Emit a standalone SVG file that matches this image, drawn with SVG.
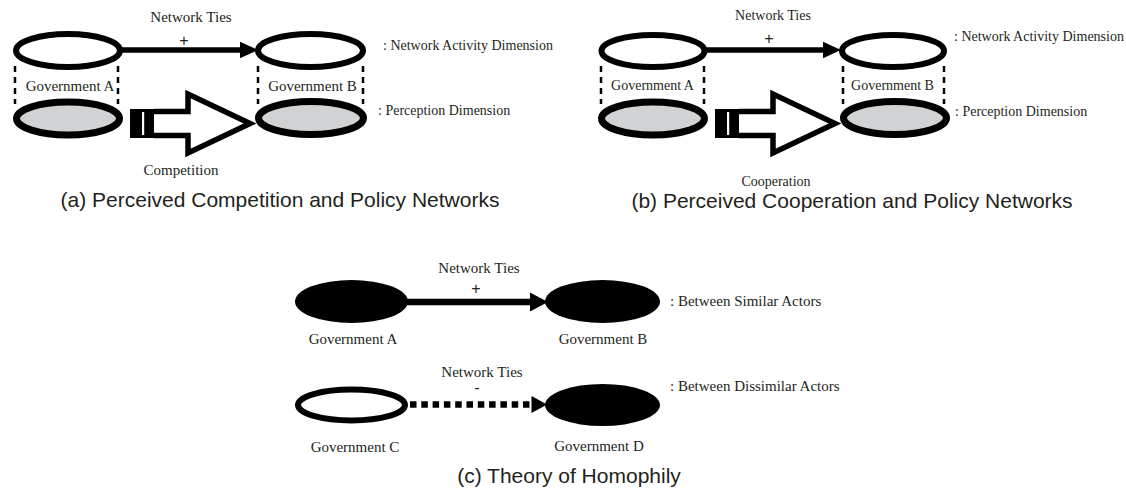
<svg xmlns="http://www.w3.org/2000/svg" width="1126" height="490" viewBox="0 0 1126 490">
<defs>
<style>
.lbl{font-family:"Liberation Serif","Times New Roman",serif;font-size:15px;fill:#231f20}
.dim{font-family:"Liberation Serif","Times New Roman",serif;font-size:14px;fill:#231f20}
.cap{font-family:"Liberation Sans",Arial,sans-serif;font-size:21px;fill:#231f20;text-anchor:middle}
.mid{text-anchor:middle}
.plus{font-family:"Liberation Sans",Arial,sans-serif;font-size:16px;fill:#231f20;text-anchor:middle}
.eo{fill:#fff;stroke:#000;stroke-width:6}
.eg{fill:#d1d2d4;stroke:#000;stroke-width:7}
.eb{fill:#000}
.dash{stroke:#000;stroke-width:2.5;stroke-dasharray:6 5;fill:none}
.tie{stroke:#000;stroke-width:5.5;fill:none}
.big{fill:#fff;stroke:#000;stroke-width:5.5;stroke-linejoin:miter}
</style>
</defs>

<!-- Panel (a) -->
<g id="panel-a">
  <g id="a-govA">
    <line class="dash" x1="15" y1="66" x2="15" y2="104"/>
    <line class="dash" x1="118" y1="66" x2="118" y2="104"/>
    <ellipse class="eo" cx="68" cy="50.5" rx="52" ry="16.5"/>
    <ellipse class="eg" cx="68" cy="118.5" rx="51.5" ry="16.5"/>
    <text class="lbl mid" x="70" y="91">Government A</text>
  </g>
  <g id="a-govB">
    <line class="dash" x1="258" y1="66" x2="258" y2="104"/>
    <line class="dash" x1="363" y1="66" x2="363" y2="104"/>
    <ellipse class="eo" cx="310.5" cy="50.5" rx="52.5" ry="16.5"/>
    <ellipse class="eg" cx="311" cy="118" rx="52.5" ry="16.5"/>
    <text class="lbl mid" x="312.5" y="91">Government B</text>
  </g>
  <g id="a-connectors">
    <line class="tie" x1="121" y1="50" x2="242" y2="50"/>
    <polygon points="240,41.7 258,50 240,58.3" fill="#000"/>
    <text class="lbl mid" x="191" y="22">Network Ties</text>
    <text class="plus" x="184" y="45.5">+</text>
    <rect x="130" y="109" width="24" height="29" fill="#000"/>
    <rect x="142" y="112" width="2.2" height="23" fill="#fff"/>
    <path class="big" d="M154,111.5 L188,111.5 L188,94 L250,123.5 L188,153 L188,135.5 L154,135.5"/>
    <text class="lbl mid" x="181" y="175">Competition</text>
  </g>
  <text class="dim" x="383" y="50">: Network Activity Dimension</text>
  <text class="dim" x="378" y="115">: Perception Dimension</text>
  <text class="cap" x="280" y="207">(a) Perceived Competition and Policy Networks</text>
</g>

<!-- Panel (b) -->
<g id="panel-b">
  <g id="b-govA">
    <line class="dash" x1="601" y1="66" x2="601" y2="104"/>
    <line class="dash" x1="704" y1="66" x2="704" y2="104"/>
    <ellipse class="eo" cx="653" cy="51" rx="51.5" ry="16"/>
    <ellipse class="eg" cx="653" cy="118.5" rx="51.5" ry="16.5"/>
    <text class="dim mid" x="652.5" y="90">Government A</text>
  </g>
  <g id="b-govB">
    <line class="dash" x1="843" y1="66" x2="843" y2="104"/>
    <line class="dash" x1="944" y1="66" x2="944" y2="104"/>
    <ellipse class="eo" cx="893" cy="51" rx="51" ry="16"/>
    <ellipse class="eg" cx="895" cy="118" rx="51.5" ry="16.5"/>
    <text class="dim mid" x="892.5" y="90">Government B</text>
  </g>
  <g id="b-connectors">
    <line class="tie" x1="706" y1="50" x2="825" y2="50"/>
    <polygon points="823,41.7 841,50 823,58.3" fill="#000"/>
    <text class="dim mid" x="773" y="20">Network Ties</text>
    <text class="plus" x="769" y="44">+</text>
    <rect x="715" y="109" width="24" height="29" fill="#000"/>
    <rect x="727" y="112" width="2.2" height="23" fill="#fff"/>
    <path class="big" d="M739,111.5 L773,111.5 L773,94 L835,123.5 L773,153 L773,135.5 L739,135.5"/>
    <text class="dim mid" x="776" y="186">Cooperation</text>
  </g>
  <text class="dim" x="954" y="41">: Network Activity Dimension</text>
  <text class="dim" x="955" y="116">: Perception Dimension</text>
  <text class="cap" x="852" y="208">(b) Perceived Cooperation and Policy Networks</text>
</g>

<!-- Panel (c) -->
<g id="panel-c">
  <g id="c-govA">
    <ellipse class="eb" cx="351.5" cy="301.5" rx="56.5" ry="21.5"/>
    <text class="lbl mid" x="353" y="344">Government A</text>
  </g>
  <g id="c-govB">
    <ellipse class="eb" cx="602.5" cy="301.5" rx="57.5" ry="21.5"/>
    <text class="lbl mid" x="603" y="344">Government B</text>
  </g>
  <g id="c-govC">
    <ellipse class="eo" cx="351.5" cy="405" rx="53.5" ry="15.5"/>
    <text class="lbl mid" x="355" y="452">Government C</text>
  </g>
  <g id="c-govD">
    <ellipse class="eb" cx="602.5" cy="405" rx="57.5" ry="21"/>
    <text class="lbl mid" x="599" y="451">Government D</text>
  </g>
  <g id="c-connectors">
    <line stroke="#000" stroke-width="6.5" x1="407" y1="302" x2="532" y2="302"/>
    <polygon points="530,292.5 548,302 530,311.5" fill="#000"/>
    <text class="lbl mid" x="479" y="273">Network Ties</text>
    <text class="plus" x="476" y="293.5">+</text>
    <line stroke="#000" stroke-width="6.5" stroke-dasharray="6.5 4.8" x1="410" y1="404.5" x2="531" y2="404.5"/>
    <polygon points="531.5,396 547,404.5 531.5,413" fill="#000"/>
    <text class="lbl mid" x="482" y="377">Network Ties</text>
    <text class="plus" x="477" y="393">-</text>
  </g>
  <text class="lbl" x="670" y="306">: Between Similar Actors</text>
  <text class="lbl" x="670" y="391">: Between Dissimilar Actors</text>
  <text class="cap" x="569" y="483">(c) Theory of Homophily</text>
</g>
</svg>
